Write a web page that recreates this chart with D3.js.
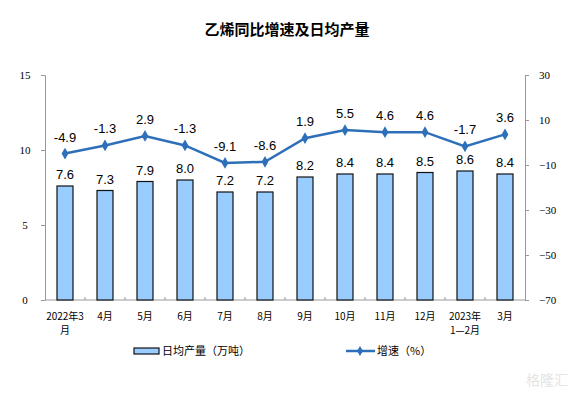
<!DOCTYPE html>
<html>
<head>
<meta charset="utf-8">
<script src="https://cdn.jsdelivr.net/npm/d3@7"></script>
<style>
  body { margin: 0; background: #fff; }
  svg { display: block; }
  .tick text { font-family: "Liberation Serif", "Times New Roman", serif; font-size: 11px; fill: #000; }
  .axis path, .axis line { stroke: #999; }
</style>
</head>
<body>
<script>
const categories = ["2022年3月", "4月", "5月", "6月", "7月", "8月", "9月", "10月", "11月", "12月", "2023年1—2月", "3月"];
const catLines = [["2022年3", "月"], ["4月"], ["5月"], ["6月"], ["7月"], ["8月"], ["9月"], ["10月"], ["11月"], ["12月"], ["2023年", "1—2月"], ["3月"]];
const output = [7.6, 7.3, 7.9, 8.0, 7.2, 7.2, 8.2, 8.4, 8.4, 8.5, 8.6, 8.4];
const growth = [-4.9, -1.3, 2.9, -1.3, -9.1, -8.6, 1.9, 5.5, 4.6, 4.6, -1.7, 3.6];
const leftTicks = [0, 5, 10, 15];
const rightTicks = [-70, -50, -30, -10, 10, 30];

document.addEventListener("DOMContentLoaded", () => {
  const W = 574, H = 394;
  const m = { left: 45, right: 49, top: 75, bottom: 94 };

  const svg = d3.select("body").append("svg").attr("width", W).attr("height", H);

  const x = d3.scaleBand().domain(categories).range([m.left, W - m.right]);
  const yL = d3.scaleLinear().domain([0, 15]).range([H - m.bottom, m.top]);
  const yR = d3.scaleLinear().domain([-70, 30]).range([H - m.bottom, m.top]);
  const cx = (i) => x(categories[i]) + x.bandwidth() / 2;

  // title
  svg.append("text")
    .attr("x", 287).attr("y", 35)
    .attr("text-anchor", "middle")
    .style("font-family", "'Noto Sans CJK SC', sans-serif")
    .style("font-size", "15px")
    .style("font-weight", "bold")
    .text("乙烯同比增速及日均产量");

  // axes
  svg.append("g").attr("class", "axis")
    .attr("transform", `translate(${m.left},0)`)
    .call(d3.axisLeft(yL).tickValues(leftTicks).tickSize(4).tickPadding(12))
    .call((g) => g.selectAll(".tick text").attr("text-anchor", "middle").attr("dx", "-4"));

  svg.append("g").attr("class", "axis")
    .attr("transform", `translate(${W - m.right},0)`)
    .call(d3.axisRight(yR).tickValues(rightTicks).tickSize(4).tickPadding(10));

  const xAxis = svg.append("g").attr("class", "axis")
    .attr("transform", `translate(0,${H - m.bottom})`);
  xAxis.append("line")
    .attr("x1", m.left).attr("x2", W - m.right)
    .attr("stroke", "#999");
  xAxis.selectAll(".sep")
    .data(categories.slice(1))
    .enter().append("line")
    .attr("x1", (d) => x(d)).attr("x2", (d) => x(d))
    .attr("y1", 0).attr("y2", -3)
    .attr("stroke", "#999");

  // category labels, one text per line
  catLines.forEach((lines, i) => {
    lines.forEach((t, j) => {
      xAxis.append("text")
        .attr("x", cx(i))
        .attr("y", 20 + j * 14)
        .attr("text-anchor", "middle")
        .style("font-family", "'Noto Sans CJK SC', sans-serif")
        .style("font-size", "10px")
        .text(t);
    });
  });

  // bars
  const bw = 16;
  svg.selectAll(".bar")
    .data(output)
    .enter().append("rect")
    .attr("x", (d, i) => cx(i) - bw / 2)
    .attr("y", (d) => yL(d))
    .attr("width", bw)
    .attr("height", (d) => yL(0) - yL(d))
    .attr("fill", "#99ccff")
    .attr("stroke", "#111")
    .attr("stroke-width", 1.2);

  const labelFont = "'Liberation Sans', Arial, sans-serif";
  svg.selectAll(".blab")
    .data(output)
    .enter().append("text")
    .attr("x", (d, i) => cx(i))
    .attr("y", (d) => yL(d) - 7)
    .attr("text-anchor", "middle")
    .style("font-family", labelFont)
    .style("font-size", "13px")
    .text((d) => d.toFixed(1));

  // growth line
  svg.append("path")
    .datum(growth)
    .attr("fill", "none")
    .attr("stroke", "#2e6fba")
    .attr("stroke-width", 2.5)
    .attr("d", d3.line().x((d, i) => cx(i)).y((d) => yR(d)));

  svg.selectAll(".pt")
    .data(growth)
    .enter().append("path")
    .attr("transform", (d, i) => `translate(${cx(i)},${yR(d)})`)
    .attr("d", d3.symbol(d3.symbolDiamond, 40))
    .attr("fill", "#2e6fba");

  svg.selectAll(".glab")
    .data(growth)
    .enter().append("text")
    .attr("x", (d, i) => cx(i))
    .attr("y", (d) => yR(d) - 12)
    .attr("text-anchor", "middle")
    .style("font-family", labelFont)
    .style("font-size", "13px")
    .text((d) => d.toFixed(1));

  // legend
  const lg = svg.append("g").style("font-family", "'Noto Sans CJK SC', sans-serif").style("font-size", "11px");
  lg.append("rect")
    .attr("x", 134).attr("y", 348).attr("width", 25).attr("height", 6)
    .attr("fill", "#99ccff").attr("stroke", "#111").attr("stroke-width", 1.2);
  lg.append("text").attr("x", 162).attr("y", 355).text("日均产量（万吨）");
  lg.append("line")
    .attr("x1", 346).attr("x2", 375).attr("y1", 351).attr("y2", 351)
    .attr("stroke", "#2e6fba").attr("stroke-width", 2.5);
  lg.append("path")
    .attr("transform", "translate(360,351)")
    .attr("d", d3.symbol(d3.symbolDiamond, 30))
    .attr("fill", "#2e6fba");
  lg.append("text").attr("x", 377).attr("y", 355).text("增速（%）");

  // watermark
  svg.append("text")
    .attr("x", 568).attr("y", 385)
    .attr("text-anchor", "end")
    .style("font-family", "'Noto Sans CJK SC', sans-serif")
    .style("font-size", "14px")
    .attr("fill", "#e4e4e4")
    .text("格隆汇");
});
</script>
</body>
</html>
